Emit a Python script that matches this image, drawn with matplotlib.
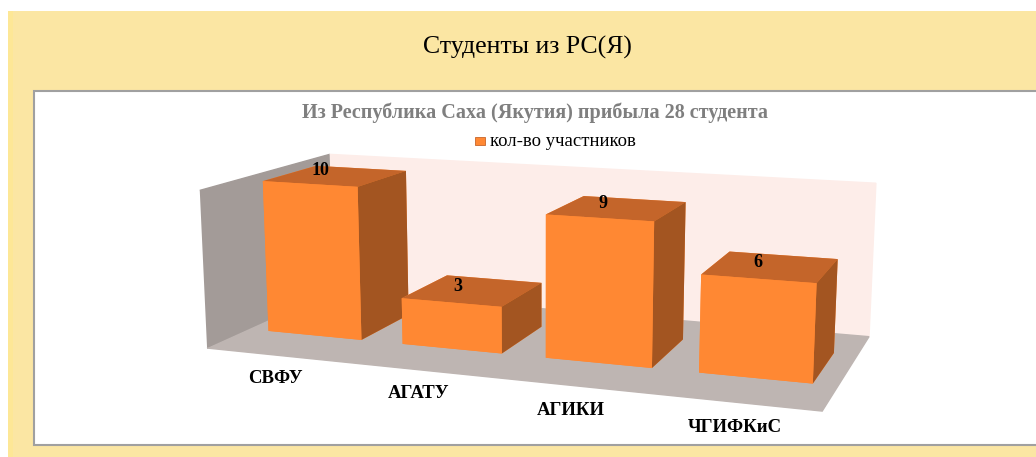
import matplotlib.pyplot as plt
from matplotlib.patches import Rectangle

# data
categories = ['СВФУ', 'АГАТУ', 'АГИКИ', 'ЧГИФКиС']
values = [10, 3, 9, 6]
series_name = 'кол-во участников'
slide_title = 'Студенты из РС(Я)'
chart_title = 'Из Республика Саха (Якутия) прибыла 28 студента'

W, H = 1036, 457
SERIF = 'Liberation Serif'

fig = plt.figure(figsize=(W / 100, H / 100), dpi=100)
fig.patch.set_facecolor('white')

# slide background and chart area
fig.patches.append(Rectangle((8 / W, 0), 1, 1 - 11 / H, transform=fig.transFigure,
                             facecolor='#FBE6A3', edgecolor='none', zorder=0))
fig.patches.append(Rectangle((8 / W, 0), 5 / W, 1 - 11 / H, transform=fig.transFigure,
                             facecolor='#FDE796', edgecolor='none', zorder=0))
fig.patches.append(Rectangle((34 / W, 1 - 445 / H), 1.1, (445 - 91) / H, transform=fig.transFigure,
                             facecolor='white', edgecolor='#A0A0A0', lw=1.5, zorder=1))

fig.text(527 / W, 1 - 47 / H, slide_title, fontsize=18.5, family=SERIF, ha='center', va='center')
fig.text(535 / W, 1 - 113 / H, chart_title, fontsize=14.5, family=SERIF, weight='bold',
         color='#7F7F7F', ha='center', va='center')

# legend
fig.patches.append(Rectangle((475 / W, 1 - 145 / H), 10 / W, 8 / H, transform=fig.transFigure,
                             facecolor='#FF8833', edgecolor='#C8652A', lw=0.6, zorder=3))
fig.text(490 / W, 1 - 141 / H, series_name, fontsize=13.5, family=SERIF, ha='left', va='center')

# 3d bars
S = 640
cx, cy = 534, 274
ax = fig.add_axes([(cx - S / 2) / W, 1 - (cy + S / 2) / H, S / W, S / H], projection='3d')
ax.set_zorder(5)
ax.patch.set_alpha(0)
ax.set_proj_type('persp', focal_length=0.45)
ax.view_init(elev=12, azim=-70)
ax.set_box_aspect((4.3, 1.9, 1.115), zoom=1.045)

front_c, top_c, side_c = '#FF8833', '#C4652A', '#A35521'
bar_w, bar_d, bar_y = 0.7, 0.42, 0.3
for i, v in enumerate(values):
    ax.bar3d(i - bar_w / 2, bar_y, 0, bar_w, bar_d, v, shade=False,
             color=[front_c, top_c, front_c, front_c, front_c, side_c])
    ax.text(i - 0.06, bar_y + bar_d * 0.35, v + 0.45, str(v), fontsize=13, family=SERIF,
            weight='bold', ha='center', va='center', zorder=10)
    ax.text(i, 0, -1.5, categories[i], fontsize=13.5, family=SERIF, weight='bold',
            ha='center', va='center')

ax.set_xlim(-0.5, 3.5)
ax.set_ylim(0, 1)
ax.set_zlim(0, 10.1)
ax.set_xticks([])
ax.set_yticks([])
ax.set_zticks([])
ax.grid(False)
for axis in (ax.xaxis, ax.yaxis, ax.zaxis):
    axis.line.set_color((0, 0, 0, 0))
    axis.label.set_visible(False)
    axis.offsetText.set_visible(False)
ax.xaxis.set_pane_color('#A39B98')
ax.yaxis.set_pane_color('#FDEDE9')
ax.zaxis.set_pane_color('#BEB5B2')

fig.savefig('out.png', dpi=100)
